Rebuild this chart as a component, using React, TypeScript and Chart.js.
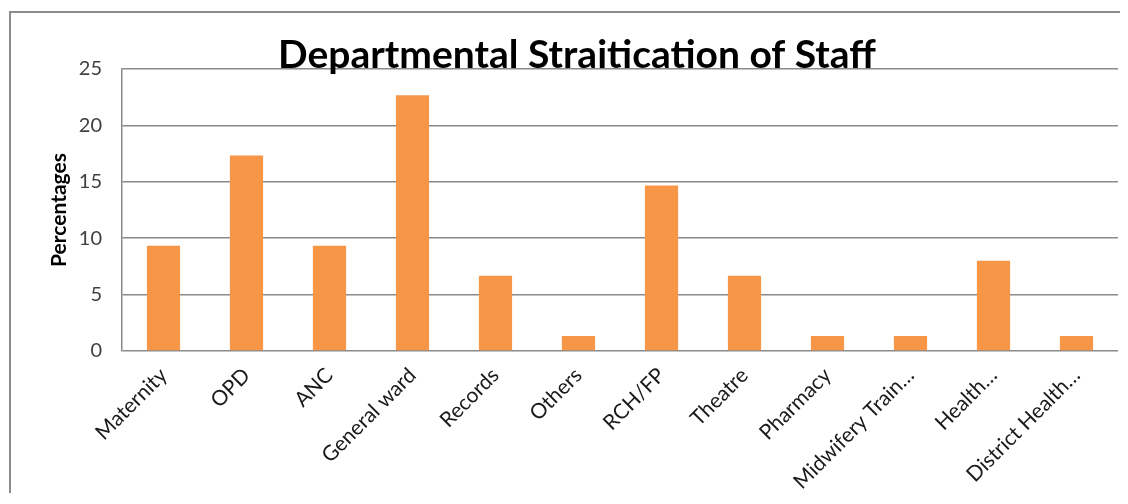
import React, { useEffect, useRef } from "react";
import { Chart, registerables } from "chart.js";

Chart.register(...registerables);

const categories = [
  "Maternity",
  "OPD",
  "ANC",
  "General ward",
  "Records",
  "Others",
  "RCH/FP",
  "Theatre",
  "Pharmacy",
  "Midwifery Train…",
  "Health…",
  "District Health…",
];
const percentages = [9.33, 17.33, 9.33, 22.67, 6.67, 1.33, 14.67, 6.67, 1.33, 1.33, 8.0, 1.33];
const yTicks = [0, 5, 10, 15, 20, 25];
const chartTitle = "Departmental Straitication of Staff";
const yAxisTitle = "Percentages";

const FONT = "Lato, 'Noto Sans', sans-serif";

const titlePlugin = {
  id: "overlayTitle",
  afterDraw(chart: any) {
    const { ctx, chartArea } = chart;
    ctx.save();
    ctx.font = `bold 39px ${FONT}`;
    ctx.fillStyle = "#000000";
    ctx.textAlign = "center";
    ctx.textBaseline = "alphabetic";
    ctx.fillText(chartTitle, 566, chartArea.top - 1);
    ctx.restore();
  },
};

export default function App() {
  const ref = useRef<HTMLCanvasElement | null>(null);

  useEffect(() => {
    if (!ref.current) return;
    const chart = new Chart(ref.current, {
      type: "bar",
      data: {
        labels: categories,
        datasets: [
          {
            label: "Percentages",
            data: percentages,
            backgroundColor: "#F79646",
            borderWidth: 0,
            barPercentage: 0.4,
            categoryPercentage: 1,
          },
        ],
      },
      options: {
        animation: false,
        responsive: false,
        maintainAspectRatio: false,
        layout: { padding: { top: 56, right: 10, left: 0, bottom: 0 } },
        plugins: {
          legend: { display: false },
          title: { display: false },
          tooltip: { enabled: false },
        },
        scales: {
          x: {
            grid: { display: false, drawTicks: false },
            border: { display: false },
            ticks: {
              autoSkip: false,
              maxRotation: 45,
              minRotation: 45,
              padding: 12,
              color: "#1a1a1a",
              font: { family: FONT, size: 21 },
            },
            afterFit(scale: any) {
              scale.height = 142;
            },
          },
          y: {
            min: 0,
            max: 25,
            afterBuildTicks(scale: any) {
              scale.ticks = yTicks.map((v) => ({ value: v }));
            },
            grid: {
              color: "#8a8a8a",
              lineWidth: 1.5,
              drawTicks: false,
            },
            border: { display: true, color: "#8a8a8a", width: 1.5 },
            ticks: {
              padding: 20,
              color: "#404040",
              font: { family: FONT, size: 20 },
            },
            title: {
              display: true,
              text: yAxisTitle,
              color: "#000000",
              padding: { top: 36, bottom: 0 },
              font: { family: FONT, size: 21, weight: "bold" },
            },
            afterFit(scale: any) {
              scale.width = 111;
            },
          },
        },
      },
      plugins: [titlePlugin],
    });
    return () => chart.destroy();
  }, []);

  return (
    <div
      style={{
        marginLeft: 1,
        marginTop: 3,
        width: 1119,
        height: 480,
        borderLeft: "2px solid #8c8c8c",
        borderTop: "2px solid #8c8c8c",
        overflow: "hidden",
      }}
    >
      <canvas ref={ref} width={1117} height={480} style={{ display: "block" }} />
    </div>
  );
}
